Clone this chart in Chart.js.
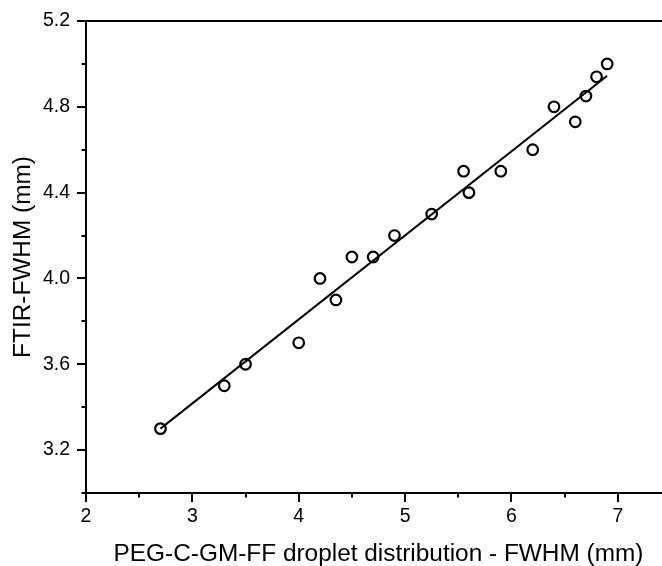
<!DOCTYPE html>
<html>
<head>
<meta charset="utf-8">
<script src="https://cdn.jsdelivr.net/npm/chart.js@4/dist/chart.umd.min.js"></script>
<style>
  html, body { margin: 0; padding: 0; background: #fff; overflow: hidden; }
  /* the plot frame runs on past the right edge of the visible area */
  #wrap { width: 662px; height: 566px; position: relative; overflow: hidden; }
</style>
</head>
<body>
<div id="wrap"><canvas id="c" width="671" height="566"></canvas></div>
<script>
// Measured droplet widths (x) against FTIR widths (y), both in mm
const dropletFWHM = [2.7, 3.3, 3.5, 4.0, 4.2, 4.35, 4.5, 4.7, 4.9, 5.25, 5.55, 5.6, 5.9, 6.2, 6.4, 6.6, 6.7, 6.8, 6.9];
const ftirFWHM    = [3.30, 3.50, 3.60, 3.70, 4.00, 3.90, 4.10, 4.10, 4.20, 4.30, 4.50, 4.40, 4.50, 4.60, 4.80, 4.73, 4.85, 4.94, 5.00];

// Linear fit, drawn between its two end points
const fitX = [2.7, 6.9];
const fitY = [3.30, 4.945];

// Axis ranges and ticks
const xRange = [2, 7.5];
const yRange = [3.0, 5.2];
const xTicks = [2, 3, 4, 5, 6, 7];
const xMinorTicks = [2.5, 3.5, 4.5, 5.5, 6.5, 7.5];
const yTicks = [3.2, 3.6, 4.0, 4.4, 4.8, 5.2];
const yMinorTicks = [3.0, 3.4, 3.8, 4.2, 4.6, 5.0];

const xTitle = 'PEG-C-GM-FF droplet distribution - FWHM (mm)';
const yTitle = 'FTIR-FWHM (mm)';

const FONT = "'Liberation Sans', Arial, sans-serif";

// Outward tick marks (major and minor) plus the top frame line
const frameTicks = {
  id: 'frameTicks',
  afterDraw(chart) {
    const ctx = chart.ctx;
    const xs = chart.scales.x, ys = chart.scales.y;
    const area = chart.chartArea;
    ctx.save();
    ctx.strokeStyle = '#000';
    ctx.lineWidth = 2;
    ctx.lineCap = 'butt';
    const bottom = area.bottom, left = area.left;
    const tick = (x1, y1, x2, y2) => { ctx.beginPath(); ctx.moveTo(x1, y1); ctx.lineTo(x2, y2); ctx.stroke(); };
    xTicks.forEach(v => { const px = Math.round(xs.getPixelForValue(v)); tick(px, bottom, px, bottom + 9); });
    xMinorTicks.forEach(v => { const px = Math.round(xs.getPixelForValue(v)); tick(px, bottom, px, bottom + 4.5); });
    yTicks.forEach(v => { const py = Math.round(ys.getPixelForValue(v)); tick(left, py, left - 9, py); });
    yMinorTicks.forEach(v => { const py = Math.round(ys.getPixelForValue(v)); tick(left, py, left - 4.5, py); });
    const top = Math.round(ys.getPixelForValue(yRange[1]));
    tick(left - 1, top, chart.width, top);
    ctx.restore();
  }
};

new Chart(document.getElementById('c'), {
  type: 'scatter',
  data: {
    datasets: [
      {
        label: 'data',
        data: dropletFWHM.map((x, i) => ({ x, y: ftirFWHM[i] })),
        showLine: false,
        pointStyle: 'circle',
        pointRadius: 5.3,
        pointHoverRadius: 5.3,
        borderWidth: 2.2,
        borderColor: '#000',
        backgroundColor: 'rgba(0,0,0,0)'
      },
      {
        label: 'fit',
        type: 'line',
        data: fitX.map((x, i) => ({ x, y: fitY[i] })),
        borderColor: '#000',
        borderWidth: 2,
        pointRadius: 0,
        fill: false,
        tension: 0
      }
    ]
  },
  options: {
    responsive: false,
    animation: false,
    events: [],
    layout: { autoPadding: false, padding: { top: 21, right: 0, bottom: 0, left: 0 } },
    plugins: {
      legend: { display: false },
      tooltip: { enabled: false }
    },
    scales: {
      x: {
        type: 'linear',
        position: 'bottom',
        min: xRange[0],
        max: xRange[1],
        afterBuildTicks: s => { s.ticks = xTicks.map(v => ({ value: v })); },
        afterFit: s => { s.height = 73; s.paddingLeft = 0; s.paddingRight = 0; },
        grid: { display: false, drawTicks: false },
        border: { display: true, color: '#000', width: 2 },
        ticks: {
          color: '#000',
          padding: 12,
          maxRotation: 0,
          autoSkip: false,
          font: { family: FONT, size: 19.5 },
          callback: v => String(v)
        },
        title: {
          display: true,
          text: xTitle,
          color: '#000',
          font: { family: FONT, size: 24.4, lineHeight: 1 },
          padding: { top: 0, bottom: 0 }
        }
      },
      y: {
        type: 'linear',
        position: 'left',
        min: yRange[0],
        max: yRange[1],
        afterBuildTicks: s => { s.ticks = yTicks.map(v => ({ value: v })); },
        afterFit: s => { s.width = 86; s.paddingTop = 0; s.paddingBottom = 0; },
        grid: { display: false, drawTicks: false },
        border: { display: true, color: '#000', width: 2 },
        ticks: {
          color: '#000',
          padding: 16,
          autoSkip: false,
          font: { family: FONT, size: 19.5 },
          callback: v => Number(v).toFixed(1)
        },
        title: {
          display: true,
          text: yTitle,
          color: '#000',
          font: { family: FONT, size: 24.4, lineHeight: 1 },
          padding: { top: 11, bottom: 11 }
        }
      }
    }
  },
  plugins: [frameTicks]
});
</script>
</body>
</html>
